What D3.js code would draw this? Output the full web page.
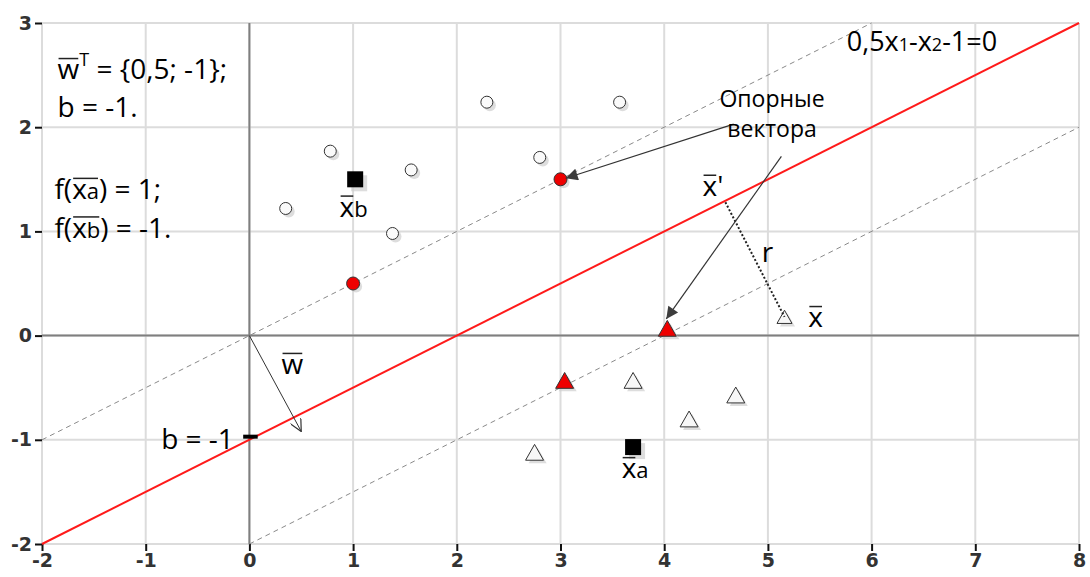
<!DOCTYPE html>
<html>
<head>
<meta charset="utf-8">
<script src="https://cdn.jsdelivr.net/npm/d3@7"></script>
<style>
  body { margin: 0; background: #fff; }
  svg { display: block; }
  .note { font-family: "Open Sans", sans-serif; fill: #000; }
</style>
</head>
<body>
<svg id="chart" width="1090" height="577"></svg>
<script>
// ---- data ----
var xTicks = [-2, -1, 0, 1, 2, 3, 4, 5, 6, 7, 8];
var yTicks = [-2, -1, 0, 1, 2, 3];

// separating line 0,5x1 - x2 - 1 = 0 and the two margin lines
var separator = [[-2, -2], [8, 3]];
var marginUpper = [[-2, -1], [6, 3]];
var marginLower = [[0, -2], [8, 2]];

// class "circles" (above the line)
var circles = [[0.35, 1.22], [0.78, 1.77], [1.38, 0.98], [1.56, 1.59], [2.29, 2.24], [2.80, 1.71], [3.57, 2.24]];
var supportCircles = [[1, 0.5], [3, 1.5]];

// class "triangles" (below the line)
var triangles = [[2.75, -1.12], [3.70, -0.43], [4.24, -0.80], [4.69, -0.57]];
var supportTriangles = [[3.04, -0.43], [4.03, 0.07]];

// x-bar, its projection x' and the two labelled squares
var xBar = [5.16, 0.18];
var xPrime = [4.59, 1.28];
var squares = [[1.02, 1.50, "b"], [3.70, -1.07, "a"]];

// normal vector w drawn from origin
var wArrow = [[0, 0], [0.5, -0.92]];
// pointers from the "Опорные вектора" note
var svArrows = [[[4.67, 2.03], [3.05, 1.51]], [[5.13, 1.72], [4.02, 0.16]]];

// ---- setup ----
var svg = d3.select("#chart");
var x = d3.scaleLinear().domain([-2, 8]).range([42, 1079]);
var y = d3.scaleLinear().domain([-2, 3]).range([544, 23]);

var defs = svg.append("defs");
defs.append("marker")
    .attr("id", "headFill")
    .attr("viewBox", "0 0 10 10")
    .attr("refX", 10).attr("refY", 5)
    .attr("markerWidth", 18).attr("markerHeight", 12)
    .attr("markerUnits", "userSpaceOnUse")
    .attr("orient", "auto")
    .append("path")
    .attr("d", "M0,0 L10,5 L0,10 z")
    .attr("fill", "#3c3c3c");
defs.append("marker")
    .attr("id", "headOpen")
    .attr("viewBox", "0 0 10 10")
    .attr("refX", 10).attr("refY", 5)
    .attr("markerWidth", 14).attr("markerHeight", 12)
    .attr("markerUnits", "userSpaceOnUse")
    .attr("orient", "auto")
    .append("path")
    .attr("d", "M0,0 L10,5 L0,10")
    .attr("fill", "none")
    .attr("stroke", "#333")
    .attr("stroke-width", 1);

// grid
var grid = svg.append("g");
grid.selectAll(".gx").data(xTicks).enter().append("line")
    .attr("x1", d => x(d)).attr("x2", d => x(d))
    .attr("y1", y(-2)).attr("y2", y(3))
    .attr("stroke", "#dcdcdc").attr("stroke-width", 2);
grid.selectAll(".gy").data(yTicks).enter().append("line")
    .attr("x1", x(-2)).attr("x2", x(8))
    .attr("y1", d => y(d)).attr("y2", d => y(d))
    .attr("stroke", "#dcdcdc").attr("stroke-width", 2);

// zero axes
svg.append("line")
    .attr("x1", x(0)).attr("x2", x(0)).attr("y1", y(-2)).attr("y2", y(3))
    .attr("stroke", "#7f7f7f").attr("stroke-width", 2);
svg.append("line")
    .attr("x1", x(-2)).attr("x2", x(8)).attr("y1", y(0)).attr("y2", y(0))
    .attr("stroke", "#7f7f7f").attr("stroke-width", 2);

// axes ticks + labels (plain hyphen for minus, like the original)
var fmt = d => String(d);
var xAxis = svg.append("g")
    .attr("transform", "translate(0," + y(-2) + ")")
    .call(d3.axisBottom(x).tickValues(xTicks).tickFormat(fmt).tickSize(7).tickPadding(3));
var yAxis = svg.append("g")
    .attr("transform", "translate(" + x(-2) + ",0)")
    .call(d3.axisLeft(y).tickValues(yTicks).tickFormat(fmt).tickSize(7).tickPadding(3));
[xAxis, yAxis].forEach(function(a) {
    a.attr("font-size", 19).attr("font-family", "'DejaVu Sans', Verdana, sans-serif");
    a.select(".domain").remove();
    a.selectAll(".tick line").attr("stroke", "#111").attr("stroke-width", 2);
    a.selectAll(".tick text")
        .attr("fill", "#333")
        .attr("font-size", 19)
        .style("font-weight", "bold")
        .style("font-size", "19px");
});

// lines
var line = d3.line().x(d => x(d[0])).y(d => y(d[1]));
[marginUpper, marginLower].forEach(function(m) {
    svg.append("path").attr("d", line(m))
        .attr("fill", "none").attr("stroke", "#8a8a8a")
        .attr("stroke-width", 1).attr("stroke-dasharray", "5,4");
});
svg.append("path").attr("d", line(separator))
    .attr("fill", "none").attr("stroke", "#ff1a1a").attr("stroke-width", 2);

// markers
var shadow = "#cfcfcf";
function tri(cx, cy, s) {
    var h = s * 0.88;
    return "M" + cx + "," + (cy - h / 2) + " L" + (cx + s / 2) + "," + (cy + h / 2) +
        " L" + (cx - s / 2) + "," + (cy + h / 2) + " z";
}

svg.selectAll(".circ-sh").data(circles.concat(supportCircles)).enter().append("circle")
    .attr("cx", d => x(d[0]) + 3).attr("cy", d => y(d[1]) + 3).attr("r", 6)
    .attr("fill", shadow).attr("opacity", 0.7);
svg.selectAll(".circ").data(circles).enter().append("circle")
    .attr("cx", d => x(d[0])).attr("cy", d => y(d[1])).attr("r", 6)
    .attr("fill", "#fafafa").attr("stroke", "#333").attr("stroke-width", 1);
svg.selectAll(".scirc").data(supportCircles).enter().append("circle")
    .attr("cx", d => x(d[0])).attr("cy", d => y(d[1])).attr("r", 6.5)
    .attr("fill", "#ee0000").attr("stroke", "#333").attr("stroke-width", 1);

var allTri = triangles.concat(supportTriangles);
svg.selectAll(".tri-sh").data(allTri).enter().append("path")
    .attr("d", d => tri(x(d[0]) + 3, y(d[1]) + 3, 18))
    .attr("fill", shadow).attr("opacity", 0.7);
svg.selectAll(".tri").data(triangles).enter().append("path")
    .attr("d", d => tri(x(d[0]), y(d[1]), 18))
    .attr("fill", "#f7f7f7").attr("stroke", "#333").attr("stroke-width", 1);
svg.selectAll(".stri").data(supportTriangles).enter().append("path")
    .attr("d", d => tri(x(d[0]), y(d[1]), 18))
    .attr("fill", "#ee0000").attr("stroke", "#333").attr("stroke-width", 1);

// x-bar triangle (smaller)
svg.append("path").attr("d", tri(x(xBar[0]) + 3, y(xBar[1]) + 3, 15))
    .attr("fill", shadow).attr("opacity", 0.7);
svg.append("path").attr("d", tri(x(xBar[0]), y(xBar[1]), 15))
    .attr("fill", "#f7f7f7").attr("stroke", "#333").attr("stroke-width", 1);

// squares
svg.selectAll(".sq-sh").data(squares).enter().append("rect")
    .attr("x", d => x(d[0]) - 8 + 4).attr("y", d => y(d[1]) - 8 + 4)
    .attr("width", 16).attr("height", 16)
    .attr("fill", shadow).attr("opacity", 0.7);
svg.selectAll(".sq").data(squares).enter().append("rect")
    .attr("x", d => x(d[0]) - 8).attr("y", d => y(d[1]) - 8)
    .attr("width", 16).attr("height", 16)
    .attr("fill", "#000");

// r: projection of x-bar onto the separator
svg.append("line")
    .attr("x1", x(xPrime[0])).attr("y1", y(xPrime[1]))
    .attr("x2", x(xBar[0])).attr("y2", y(xBar[1]))
    .attr("stroke", "#222").attr("stroke-width", 2).attr("stroke-dasharray", "2,2");

// arrows
svg.append("path").attr("d", line(wArrow))
    .attr("stroke", "#333").attr("stroke-width", 1).attr("fill", "none")
    .attr("marker-end", "url(#headOpen)");
svArrows.forEach(function(a) {
    svg.append("path").attr("d", line(a))
        .attr("stroke", "#333").attr("stroke-width", 1.2).attr("fill", "none")
        .attr("marker-end", "url(#headFill)");
});

// b = -1 mark on the y axis
svg.append("line")
    .attr("x1", x(-0.06)).attr("x2", x(0.08))
    .attr("y1", y(-0.97)).attr("y2", y(-0.97))
    .attr("stroke", "#000").attr("stroke-width", 4);

// ---- text notes ----
// parts: [text, fontSize or 0, dy or 0, overline?]; consecutive overlined parts share one bar
function note(px, py, size, parts, anchor) {
    var t = svg.append("text").attr("class", "note")
        .attr("x", x(px)).attr("y", y(py))
        .attr("font-size", size)
        .attr("text-anchor", anchor || "start");
    var idx = 0, bars = [], prevBar = false;
    parts.forEach(function(p) {
        var s = t.append("tspan").text(p[0]);
        if (p[1]) s.attr("font-size", p[1]);
        if (p[2]) s.attr("dy", p[2]);
        if (p[3]) {
            if (prevBar) bars[bars.length - 1][1] = idx + p[0].length - 1;
            else bars.push([idx, idx + p[0].length - 1]);
        }
        prevBar = !!p[3];
        idx += p[0].length;
    });
    var node = t.node();
    bars.forEach(function(b) {
        var e0 = node.getExtentOfChar(b[0]);
        var e1 = node.getExtentOfChar(b[1]);
        var yy = y(py) - size * 0.74;
        svg.append("line")
            .attr("x1", e0.x + 1).attr("x2", e1.x + e1.width - 1)
            .attr("y1", yy).attr("y2", yy)
            .attr("stroke", "#222").attr("stroke-width", 1.5);
    });
    return t;
}

note(-1.85, 2.46, 28, [["w", 0, 0, true], ["T", 18, -13], [" = {0,5; -1};", 0, 13]]);
note(-1.85, 2.10, 28, [["b = -1."]]);

note(-1.88, 1.31, 28, [["f("], ["x", 0, 0, true], ["a", 22, 0, true], [") = 1;"]]);
note(-1.88, 0.94, 28, [["f("], ["x", 0, 0, true], ["b", 22, 0, true], [") = -1."]]);

note(5.76, 2.73, 27, [["0,5x"], ["1", 18], ["-x"], ["2", 18], ["-1=0"]]);

note(5.04, 2.19, 23, [["Опорные"]], "middle");
note(5.04, 1.91, 23, [["вектора"]], "middle");

note(4.37, 1.34, 28, [["x", 0, 0, true], ["'"]]);
note(4.94, 0.71, 28, [["r"]]);
note(5.39, 0.08, 28, [["x", 0, 0, true]]);
note(0.31, -0.37, 28, [["w", 0, 0, true]]);
note(-0.15, -1.09, 28, [["b = -1"]], "end");

squares.forEach(function(s) {
    var lx = s[2] === "b" ? 0.87 : 3.59;
    var ly = s[2] === "b" ? 1.14 : -1.37;
    note(lx, ly, 28, [["x", 0, 0, true], [s[2], 22]]);
});
</script>
</body>
</html>
